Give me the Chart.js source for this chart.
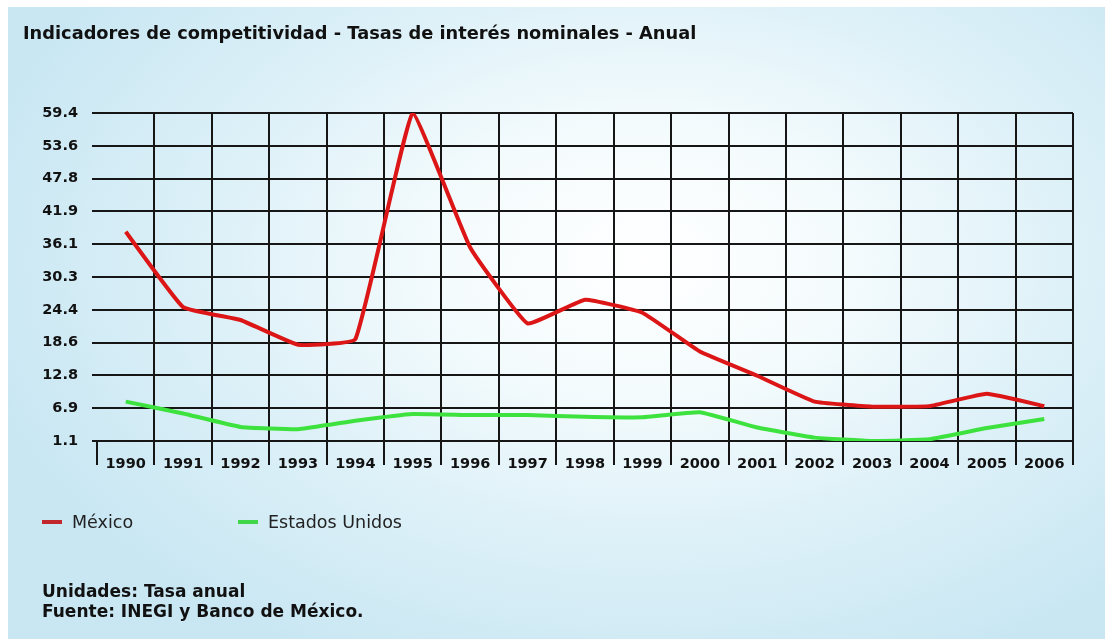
<!DOCTYPE html>
<html>
<head>
<meta charset="utf-8">
<script src="https://cdn.jsdelivr.net/npm/chart.js@4.4.1/dist/chart.umd.min.js"></script>
<style>
  html, body { margin: 0; padding: 0; }
  body { width: 1105px; height: 641px; overflow: hidden; position: relative; background: #ffffff; }
  #bg { position: absolute; left: 8px; top: 7px; right: 0; bottom: 2px;
        background: radial-gradient(ellipse 62% 70% at 58% 40%, #ffffff 0%, #f4fbfd 30%, #def1f8 62%, #c9e7f3 100%); }
  #chart { position: absolute; left: 0; top: 0; }
  #legend { position: absolute; left: 0; top: 0; width: 1105px; height: 641px; pointer-events: none; }
  .lg-item { position: absolute; top: 512px; display: flex; align-items: center;
             font: 17.5px "DejaVu Sans", sans-serif; color: #222; white-space: nowrap; }
  .lg-swatch { width: 20px; height: 4px; margin-right: 10px; }
  #footer { position: absolute; left: 42px; top: 581px; font: bold 17px "DejaVu Sans", sans-serif;
            line-height: 20px; color: #111; }
</style>
</head>
<body>
<div id="bg"></div>
<canvas id="chart" width="1105" height="641"></canvas>
<div id="legend"></div>
<div id="footer"><div>Unidades: Tasa anual</div><div>Fuente: INEGI y Banco de México.</div></div>
<script>
// ---- data ----
const years = ['1990','1991','1992','1993','1994','1995','1996','1997','1998','1999','2000','2001','2002','2003','2004','2005','2006'];
const mexico = [38.3, 24.9, 22.6, 18.2, 19.2, 59.4, 35.5, 22.0, 26.2, 23.9, 17.0, 12.7, 8.1, 7.2, 7.3, 9.5, 7.3];
const estadosUnidos = [8.1, 6.0, 3.6, 3.2, 4.7, 5.9, 5.7, 5.7, 5.4, 5.3, 6.2, 3.5, 1.7, 1.1, 1.4, 3.4, 5.0];
const seriesNames = ['México', 'Estados Unidos'];
const yTickLabels = ['1.1','6.9','12.8','18.6','24.4','30.3','36.1','41.9','47.8','53.6','59.4'];
const yMin = 1.1;
const yMax = 59.4;
const titleText = 'Indicadores de competitividad - Tasas de interés nominales - Anual';

const legendLefts = [42, 238];
const htmlLegend = {
  id: 'htmlLegend',
  afterUpdate(chart) {
    const box = document.getElementById('legend');
    box.innerHTML = '';
    chart.data.datasets.forEach((ds, i) => {
      const item = document.createElement('div');
      item.className = 'lg-item';
      item.style.left = legendLefts[i] + 'px';
      const sw = document.createElement('span');
      sw.className = 'lg-swatch';
      sw.style.background = ds.legendColor || ds.borderColor;
      const tx = document.createElement('span');
      tx.textContent = ds.label;
      item.appendChild(sw);
      item.appendChild(tx);
      box.appendChild(item);
    });
  }
};

const gridColor = '#161616';
const tickFont = { family: 'DejaVu Sans', size: 14.5, weight: 'bold' };

new Chart(document.getElementById('chart'), {
  type: 'line',
  data: {
    labels: years,
    datasets: [
      { label: seriesNames[0], data: mexico, borderColor: '#dc1616', legendColor: '#c0282d',
        borderWidth: 4, pointRadius: 0, tension: 0.1, fill: false },
      { label: seriesNames[1], data: estadosUnidos, borderColor: '#3ee23e', legendColor: '#3fd64a',
        borderWidth: 4, pointRadius: 0, tension: 0.1, fill: false }
    ]
  },
  options: {
    responsive: false,
    animation: false,
    layout: { padding: { left: 23, right: 32, top: 0, bottom: 160 } },
    plugins: {
      legend: { display: false },
      tooltip: { enabled: false },
      title: {
        display: true, text: titleText, align: 'start', color: '#111',
        font: { family: 'DejaVu Sans', size: 17.8, weight: 'bold' },
        padding: { top: 23.5, bottom: 68.1 }
      }
    },
    scales: {
      x: {
        type: 'category',
        offset: true,
        border: { display: false },
        grid: {
          offset: true,
          color: (c) => c.index === 0 ? 'rgba(0,0,0,0)' : gridColor,
          tickColor: gridColor,
          lineWidth: 2,
          tickLength: 24
        },
        ticks: { color: '#111', font: tickFont, padding: -9, maxRotation: 0, autoSkip: false },
        afterFit: (s) => { s.height = 40; }
      },
      y: {
        min: yMin,
        max: yMax,
        border: { display: false },
        afterBuildTicks: (s) => {
          s.ticks = yTickLabels.map((_, i) => ({ value: yMin + i * (yMax - yMin) / (yTickLabels.length - 1) }));
        },
        grid: { color: gridColor, lineWidth: 2, tickLength: 5 },
        ticks: { color: '#111', font: tickFont, padding: 14, callback: (v, i) => yTickLabels[i] },
        afterFit: (s) => { s.width = 74; }
      }
    }
  },
  plugins: [htmlLegend]
});
</script>
</body>
</html>
